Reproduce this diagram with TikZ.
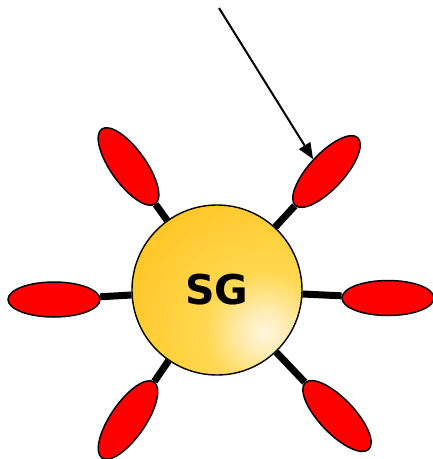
\documentclass[tikz,border=0pt]{standalone}
\usepackage{fontspec}
\newfontfamily\sgfont{DejaVu Sans}
\usetikzlibrary{shapes.geometric,arrows.meta}
\definecolor{gold}{HTML}{FFC000}
\definecolor{goldb}{HTML}{FFC82A}
\definecolor{goldmid}{HTML}{FFD850}
\definecolor{hlmid}{HTML}{FFEDB5}
\definecolor{hl}{HTML}{FFF6DE}
\pgfdeclareradialshading{ballshade}{\pgfpoint{0bp}{0bp}}{color(0bp)=(hl); color(2.3bp)=(hlmid); color(6.8bp)=(goldmid); color(15.9bp)=(goldb); color(27.3bp)=(gold); color(50bp)=(gold)}
\begin{document}
\begin{tikzpicture}[x=1pt,y=-1pt,
  petal/.style={ellipse, draw=black, line width=1.5pt, fill=red, minimum width=92pt, minimum height=35pt, inner sep=0pt},
  stem/.style={line width=7pt, draw=black},
  ball/.style={circle, draw=black, line width=1.4pt, minimum size=170pt, inner sep=0pt, font=\sgfont\bfseries\fontsize{41}{41}\selectfont},
  pointer/.style={line width=2pt, -{Triangle[length=16pt,width=13pt]}}]
\useasboundingbox (0,0) rectangle (433,459);
\begin{scope}
  \clip (217,290) circle (85);
  \shade[shading=ballshade] (265,332) circle (220);
\end{scope}
\node[ball] (sg) at (217,290) {SG};
\node[petal, rotate=-54.4] (ul) at (128.5,166.5) {};
\node[petal, rotate=-132.7] (ur) at (326.5,171.5) {};
\node[petal] (l) at (54,299.5) {};
\node[petal, rotate=180] (r) at (388,298) {};
\node[petal, rotate=55.6] (ll) at (128,420) {};
\node[petal, rotate=133.6] (lr) at (337,416) {};
\foreach \p in {ul,ur,l,r,ll,lr} \draw[stem] (\p) -- (sg);
\coordinate (start) at (219,8);
\draw[pointer] (start) -- (ur.south);
\end{tikzpicture}
\end{document}
